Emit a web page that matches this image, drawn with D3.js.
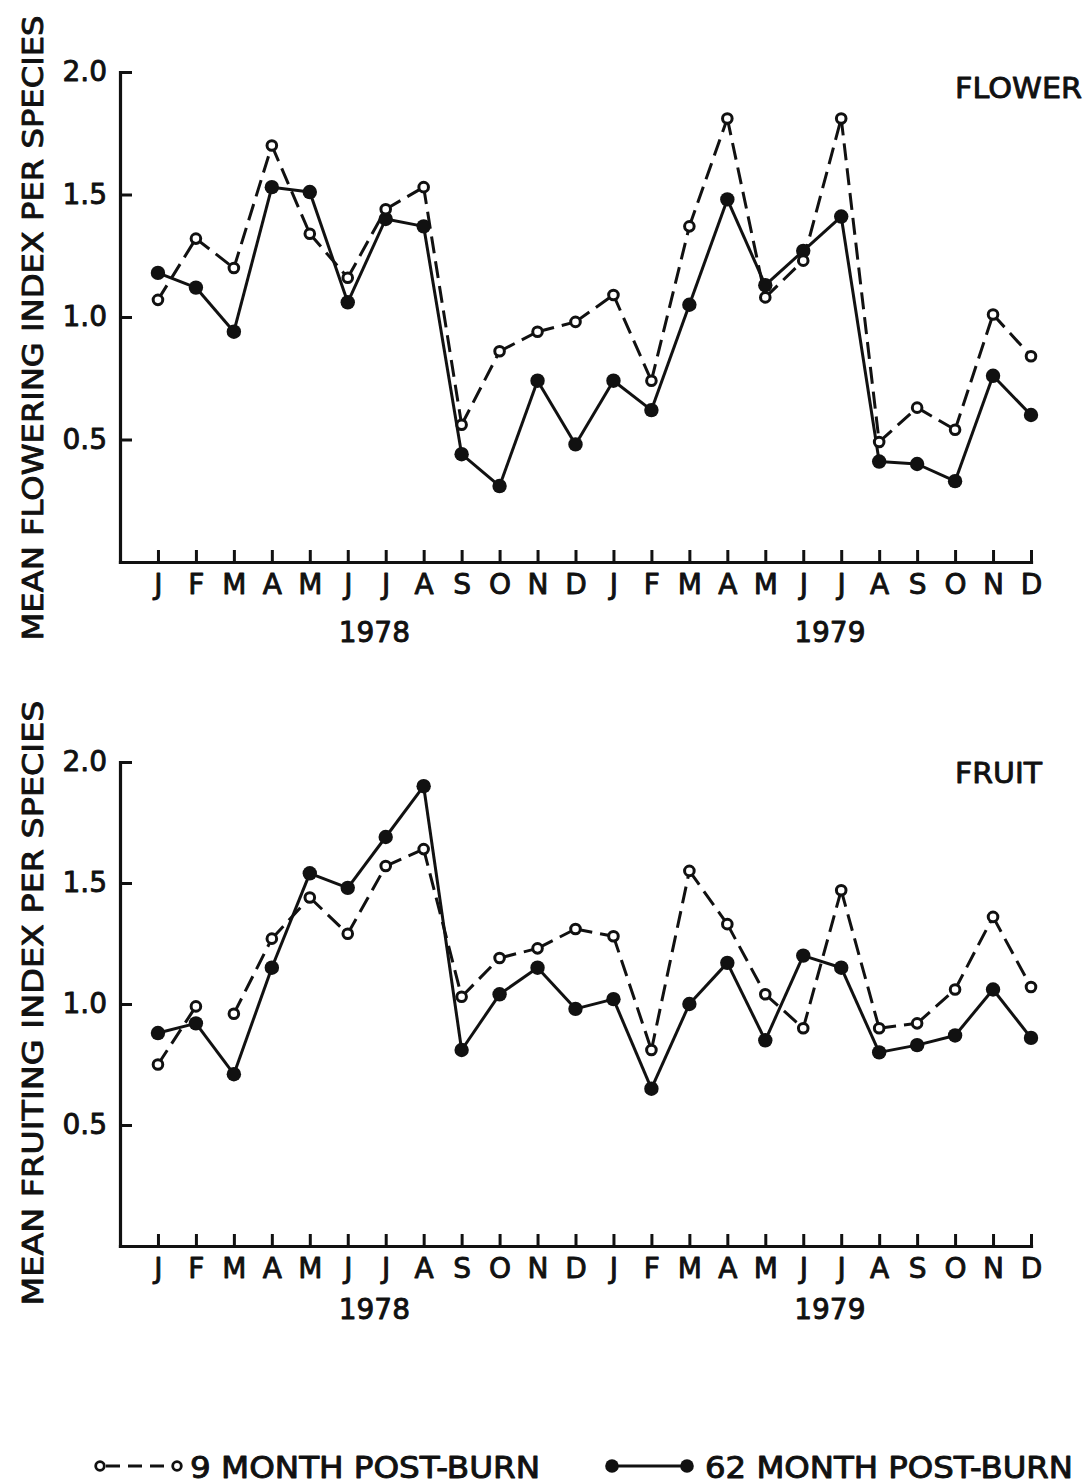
<!DOCTYPE html>
<html>
<head>
<meta charset="utf-8">
<script src="https://cdn.jsdelivr.net/npm/d3@7"></script>
<style>
  body { margin: 0; background: #fff; }
  svg text { font-family: 'DejaVu Sans', 'Liberation Sans', sans-serif; }
</style>
</head>
<body>
<svg id="fig"></svg>
<script>
// Monthly phenology indices, Jan 1978 – Dec 1979
const months = ["J","F","M","A","M","J","J","A","S","O","N","D",
                "J","F","M","A","M","J","J","A","S","O","N","D"];
const years = ["1978", "1979"];
const yTicks = [0.5, 1.0, 1.5, 2.0];

// Flowering index per species
const flower9  = [1.07,1.32,1.20,1.70,1.34,1.16,1.44,1.53,0.56,0.86,0.94,0.98,
                  1.09,0.74,1.37,1.81,1.08,1.23,1.81,0.49,0.63,0.54,1.01,0.84];
const flower62 = [1.18,1.12,0.94,1.53,1.51,1.06,1.40,1.37,0.44,0.31,0.74,0.48,
                  0.74,0.62,1.05,1.48,1.13,1.27,1.41,0.41,0.40,0.33,0.76,0.60];

// Fruiting index per species
const fruit9   = [0.75,0.99,0.96,1.27,1.44,1.29,1.57,1.64,1.03,1.19,1.23,1.31,
                  1.28,0.81,1.55,1.33,1.04,0.90,1.47,0.90,0.92,1.06,1.36,1.07];
const fruit62  = [0.88,0.92,0.71,1.15,1.54,1.48,1.69,1.90,0.81,1.04,1.15,0.98,
                  1.02,0.65,1.00,1.17,0.85,1.20,1.15,0.80,0.83,0.87,1.06,0.86];

// months after which a series is not joined to the next one
const fruit9Unlinked = [1];

const legendLabels = ["9 MONTH  POST-BURN", "62 MONTH  POST-BURN"];

const W = 1089, H = 1484;
const ink = "#111";
const DASH = "17,8";
const TEXT_STROKE = 0.9;

const svg = d3.select("#fig").attr("width", W).attr("height", H);
svg.append("rect").attr("width", W).attr("height", H).attr("fill", "#fff");

// shared month scale: one empty slot before January so the axis starts at the corner
const x = d3.scaleLinear().domain([-1, 23]).range([120, 1031]);

const panels = [
  { title: "FLOWER", titleW: 127, ylabel: "MEAN FLOWERING INDEX PER SPECIES", ylabelLen: 625,
    ylabelMid: 328, nine: flower9, sixty: flower62, unlinked9: [],
    top: 72, base: 562, yearGap: 80, titleY: 98 },
  { title: "FRUIT", titleW: 87, ylabel: "MEAN FRUITING INDEX PER SPECIES", ylabelLen: 605,
    ylabelMid: 1003, nine: fruit9, sixty: fruit62, unlinked9: fruit9Unlinked,
    top: 762, base: 1246, yearGap: 73, titleY: 783 }
];

function inkText(sel, size) {
  return sel.attr("font-size", size).attr("fill", ink)
    .attr("stroke", ink).attr("stroke-width", TEXT_STROKE).attr("stroke-linejoin", "round");
}

function styleAxis(g) {
  g.select(".domain").attr("stroke", ink).attr("stroke-width", 3.2).attr("stroke-linecap", "square");
  g.selectAll(".tick line").attr("stroke", ink).attr("stroke-width", 3);
  inkText(g.selectAll(".tick text"), 28);
}

panels.forEach(p => {
  const y = d3.scaleLinear().domain([0, 2]).range([p.base, p.top]);
  const g = svg.append("g");

  // axes
  const gy = g.append("g").attr("transform", `translate(${x(-1)},0)`)
    .call(d3.axisLeft(y).tickValues(yTicks).tickFormat(d3.format(".1f"))
      .tickSize(-12).tickSizeOuter(0).tickPadding(13));
  styleAxis(gy);

  const gx = g.append("g").attr("transform", `translate(0,${p.base})`)
    .call(d3.axisBottom(x).tickValues(d3.range(months.length)).tickFormat(i => months[i])
      .tickSize(-12).tickSizeOuter(0).tickPadding(12));
  styleAxis(gx);

  // year labels under the month letters
  inkText(g.selectAll("text.year").data(years).join("text").attr("class", "year"), 28)
    .attr("x", (d, i) => x(5.7 + 12 * i))
    .attr("y", p.base + p.yearGap)
    .attr("text-anchor", "middle")
    .text(d => d);

  // panel title
  inkText(g.append("text"), 28).attr("x", 955).attr("y", p.titleY)
    .attr("textLength", p.titleW).attr("lengthAdjust", "spacingAndGlyphs")
    .text(p.title);

  // vertical axis title
  inkText(g.append("text"), 29)
    .attr("transform", `translate(33,${p.ylabelMid}) rotate(-90)`)
    .attr("text-anchor", "middle").attr("dy", "0.36em")
    .attr("textLength", p.ylabelLen).attr("lengthAdjust", "spacingAndGlyphs")
    .text(p.ylabel);

  // connecting segments
  const pairs = d3.pairs(d3.range(months.length));
  g.append("g").selectAll("line")
    .data(pairs.filter(([a]) => !p.unlinked9.includes(a)))
    .join("line")
    .attr("x1", d => x(d[0])).attr("y1", d => y(p.nine[d[0]]))
    .attr("x2", d => x(d[1])).attr("y2", d => y(p.nine[d[1]]))
    .attr("stroke", ink).attr("stroke-width", 3).attr("stroke-dasharray", DASH);

  g.append("g").selectAll("line")
    .data(pairs)
    .join("line")
    .attr("x1", d => x(d[0])).attr("y1", d => y(p.sixty[d[0]]))
    .attr("x2", d => x(d[1])).attr("y2", d => y(p.sixty[d[1]]))
    .attr("stroke", ink).attr("stroke-width", 3);

  // markers
  g.append("g").selectAll("circle").data(p.sixty).join("circle")
    .attr("cx", (d, i) => x(i)).attr("cy", d => y(d)).attr("r", 7.2).attr("fill", ink);

  g.append("g").selectAll("circle").data(p.nine).join("circle")
    .attr("cx", (d, i) => x(i)).attr("cy", d => y(d)).attr("r", 4.8)
    .attr("fill", "#fff").attr("stroke", ink).attr("stroke-width", 3);
});

// legend
const lg = svg.append("g").attr("transform", "translate(0,1466)");
const legendItems = [
  { x0: 100, x1: 177, tx: 190, tw: 350, dashed: true, label: legendLabels[0] },
  { x0: 612, x1: 687, tx: 705, tw: 368, dashed: false, label: legendLabels[1] }
];
legendItems.forEach(it => {
  lg.append("line").attr("x1", it.x0 + 6).attr("x2", it.x1).attr("y1", 0).attr("y2", 0)
    .attr("stroke", ink).attr("stroke-width", 3)
    .attr("stroke-dasharray", it.dashed ? "14,8" : null);
  [it.x0, it.x1].forEach(cx => {
    if (it.dashed) {
      lg.append("circle").attr("cx", cx).attr("cy", 0).attr("r", 4.3)
        .attr("fill", "#fff").attr("stroke", ink).attr("stroke-width", 2.8);
    } else {
      lg.append("circle").attr("cx", cx).attr("cy", 0).attr("r", 6.8).attr("fill", ink);
    }
  });
  inkText(lg.append("text"), 31).attr("x", it.tx).attr("y", 12)
    .style("font-family", "'DejaVu Sans Condensed', 'DejaVu Sans', sans-serif")
    .attr("textLength", it.tw).attr("lengthAdjust", "spacingAndGlyphs")
    .text(it.label);
});
</script>
</body>
</html>
